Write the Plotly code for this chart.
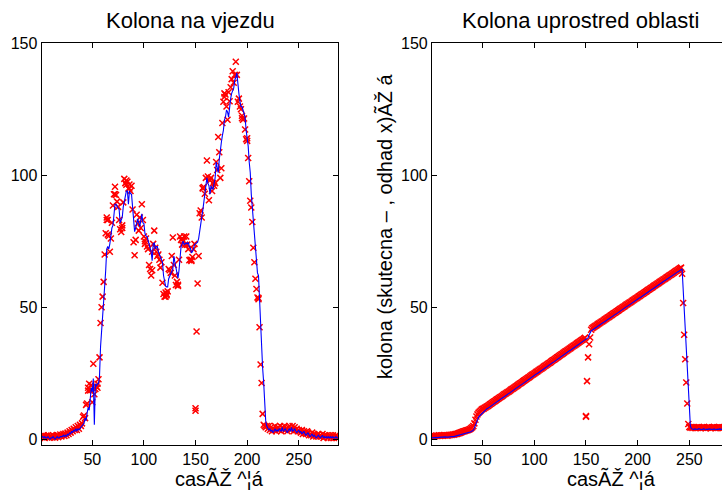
import plotly.graph_objects as go

# ---------------- data: left panel "Kolona na vjezdu" ----------------
left_blue = [
    1, 1, 0.5, 1, 0.5, 0.5, 1, 0.5, 0, 0.5,
    0.5, 1, 0.5, 0, 0.5, 1, 0.5, 0.5, 1, 1,
    1, 1.5, 1, 1.5, 1, 2, 1.5, 2.5, 2, 3,
    2.5, 3.5, 3, 4, 3, 4, 3.5, 4, 4.5, 5,
    5.5, 6, 8, 7, 10, 12, 11, 16, 19.5, 18,
    23, 5.5, 21, 20, 21, 21, 24, 35, 40, 46,
    52, 58, 64, 72, 73, 72, 74, 78, 80, 81,
    86, 89, 89, 88, 87.6, 87, 82, 83, 84, 88,
    90, 91.5, 94, 94, 89, 94, 93, 92.8, 88, 84,
    78.6, 80, 81.7, 83.5, 82, 80.5, 83, 85.4, 82, 81.7,
    78, 77, 76.8, 75.5, 74, 73, 71, 67.6, 74, 74.3,
    72, 73, 73, 71, 70, 69.4, 68, 67, 62, 60,
    58, 57.7, 57.7, 60.8, 62, 62.7, 63.5, 64.5, 69.4, 67,
    64.5, 63, 61, 64, 68, 73, 74, 75, 73.7, 74,
    74.3, 74, 74.6, 73, 72.5, 70.6, 71, 72, 73.7, 74,
    74.3, 74.6, 76, 79, 83, 84, 86.6, 90, 94, 97,
    99, 97, 96, 92.8, 96, 95, 94.6, 97, 99, 105,
    103, 101, 106, 110, 112.4, 115, 117, 121, 122, 124.7,
    124, 122, 126, 129, 131, 132, 133, 136, 137, 138.8,
    133, 131, 128, 126, 126, 124.7, 123, 122, 117, 114,
    111, 105, 101, 92.8, 88, 83, 78, 73, 65.7, 63,
    62, 52, 45, 34, 27, 21.5, 12, 6.8, 5, 4,
    3.5, 4, 3, 3.5, 2.5, 3, 4, 3, 3.5, 3,
    4, 3.5, 3, 4.5, 3, 3.5, 4, 3, 2.5, 3.5,
    4, 3, 4.5, 3, 3.5, 4, 3, 2.5, 3, 3.5,
    2.5, 3, 2, 2.5, 3, 2, 1.5, 2, 2.5, 1.5,
    1, 1.5, 2, 1, 1.5, 1, 0.5, 1, 1.5, 1,
    0.5, 1, 1.5, 0.5, 1, 0.5, 1, 0.5, 1, 0.5,
    1, 0.5, 1, 0.5, 0.5, 1, 0.5, 0.5,
]
left_red = [
    1.0, 0.8, 1.5, 0.5, 1.2, 0.8, 1.5, 0.6, 1.0, 1.3,
    0.7, 1.5, 1.0, 0.6, 1.2, 1.6, 0.8, 1.2, 1.8, 1.0,
    1.5, 2.0, 1.2, 2.2, 1.5, 2.5, 2.0, 3.0, 2.5, 3.5,
    3.0, 4.0, 3.5, 4.5, 3.5, 5.0, 4.0, 5.5, 5.0, 6.0,
    8.5, 9.0, 8.0, 13.0, 13.5, 19.5, 21.0, 18.5, 20.5, 14.0,
    28.6, 17.0, 19.0, 20.0, 19.5, 22.7, 31.0, 44.0, 50.0, 54.0,
    59.6, 70.0, 78.0, 84.0, 83.0, 77.0, 71.0, 76.0, 82.0, 88.5,
    92.8, 95.6, 92.5, 90.0, 88.0, 83.0, 79.5, 78.5, 81.0, 89.7,
    98.6, 97.0, 96.4, 97.5, 95.0, 95.0, 94.0, 96.0, 87.0, 74.6,
    69.7, 75.5, 85.0, 81.7, 79.0, 84.0, 80.0, 89.0, 83.0, 76.8,
    74.0, 76.0, 73.0, 72.0, 66.0, 64.5, 62.0, 71.0, 74.0, 79.0,
    72.5, 71.0, 69.4, 70.0, 68.0, 65.0, 67.0, 59.3, 55.0, 54.0,
    55.6, 54.5, 56.0, 64.5, 64.0, 63.0, 69.4, 76.4, 66.0, 62.0,
    58.4, 59.6, 58.5, 68.0, 76.8, 75.5, 73.7, 75.0, 76.8, 73.7,
    76.8, 73.7, 72.0, 67.8, 68.0, 68.0, 69.0, 72.0, 74.0, 11.7,
    40.8, 59.0, 69.4, 85.6, 86.6, 84.0, 95.2, 95.5, 93.0, 99.0,
    105.6, 99.5, 90.5, 98.0, 99.0, 94.0, 97.0, 96.0, 97.0, 105.0,
    102.0, 114.5, 108.7, 99.0, 102.6, 119.8, 127.8, 129.6, 130.6, 126.0,
    121.0, 131.4, 128.0, 133.3, 136.4, 139.4, 135.0, 138.0, 143.0, 138.0,
    127.8, 129.0, 126.0, 125.0, 121.6, 121.0, 121.5, 117.3, 113.6, 113.0,
    106.5, 97.7, 90.3, 87.8, 82.3, 72.5, 67.0, 60.8, 56.9, 53.7,
    53.0, 42.4, 28.3, 21.3, 9.6, 5.5, 5.0, 4.5, 5.0, 4.0,
    5.0, 3.5, 4.5, 3.0, 4.0, 3.5, 5.0, 3.0, 4.0, 4.5,
    3.5, 5.0, 3.0, 4.5, 4.0, 5.0, 3.5, 4.0, 3.0, 4.5,
    5.0, 3.5, 4.0, 5.0, 3.0, 4.5, 3.5, 4.0, 3.0, 3.5,
    3.0, 2.5, 3.5, 2.0, 3.0, 2.5, 2.0, 3.0, 2.5, 1.5,
    2.0, 1.5, 2.5, 1.0, 2.0, 1.5, 1.0, 1.5, 2.0, 1.0,
    1.5, 1.0, 2.0, 0.5, 1.5, 1.0, 1.5, 0.5, 1.0, 1.5,
    0.5, 1.0, 1.5, 0.5, 1.0, 1.5, 0.5, 1.0,
]
left_extra_t = [150, 46, 55, 64, 65, 72, 79, 83, 86, 101, 108, 121, 122, 133,
                137, 146, 157, 178, 195, 200, 211]
left_extra_v = [10.8, 18.4, 21.0, 83.0, 77.5, 92.8, 80.0, 98.0, 96.5, 75.0, 64.0,
                54.0, 55.0, 58.0, 76.0, 67.5, 95.0, 131.0, 122.5, 114.0, 53.5]

# ---------------- data: right panel "Kolona uprostred oblasti" ----------------
right_blue = [
    0.5, 0.6, 0.5, 0.6, 0.7, 0.6, 0.7, 0.8, 0.7, 0.8,
    0.8, 0.9, 0.8, 0.9, 0.8, 0.7, 0.8, 0.9, 1.0, 0.9,
    1.0, 1.0, 1.1, 1.1, 1.2, 1.3, 1.4, 1.5, 1.6, 1.8,
    1.9, 2.0, 2.1, 2.2, 2.3, 2.4, 2.5, 2.7, 2.9, 3.1,
    3.4, 4.2, 5.4, 6.6, 7.6, 8.3, 8.8, 9.2, 9.6, 10.0,
    10.6, 10.9, 11.2, 11.5, 11.7, 12.0, 12.3, 12.6, 12.8, 13.1,
    13.4, 13.7, 13.9, 14.2, 14.5, 14.8, 15.0, 15.3, 15.6, 15.9,
    16.1, 16.4, 16.7, 17.0, 17.2, 17.5, 17.8, 18.1, 18.3, 18.6,
    18.9, 19.2, 19.4, 19.7, 20.0, 20.3, 20.5, 20.8, 21.1, 21.4,
    21.6, 21.9, 22.2, 22.5, 22.7, 23.0, 23.3, 23.6, 23.8, 24.1,
    24.4, 24.7, 24.9, 25.2, 25.5, 25.8, 26.0, 26.3, 26.6, 26.9,
    27.1, 27.4, 27.7, 28.0, 28.2, 28.5, 28.8, 29.1, 29.3, 29.6,
    29.9, 30.2, 30.4, 30.7, 31.0, 31.3, 31.5, 31.8, 32.1, 32.4,
    32.6, 32.9, 33.2, 33.5, 33.7, 34.0, 34.3, 34.6, 34.8, 35.1,
    35.4, 35.7, 35.9, 36.2, 36.5, 36.8, 37.0, 37.3, 37.6, 37.9,
    38.1, 38.4, 39.5, 40.5, 41.0, 41.3, 41.6, 41.8, 42.1, 42.4,
    42.6, 42.9, 43.2, 43.4, 43.7, 44.0, 44.2, 44.5, 44.8, 45.0,
    45.3, 45.6, 45.8, 46.1, 46.4, 46.6, 46.9, 47.2, 47.4, 47.7,
    48.0, 48.2, 48.5, 48.8, 49.0, 49.3, 49.6, 49.8, 50.1, 50.4,
    50.6, 50.9, 51.2, 51.4, 51.7, 52.0, 52.2, 52.5, 52.8, 53.0,
    53.3, 53.6, 53.8, 54.1, 54.4, 54.6, 54.9, 55.2, 55.4, 55.7,
    56.0, 56.2, 56.5, 56.8, 57.0, 57.3, 57.6, 57.8, 58.1, 58.4,
    58.6, 58.9, 59.2, 59.4, 59.7, 60.0, 60.2, 60.5, 60.8, 61.0,
    61.3, 61.6, 61.8, 62.1, 62.4, 62.6, 62.9, 63.2, 63.4, 63.7,
    64.0, 64.2, 64.5, 57.0, 50.0, 42.0, 34.0, 27.0, 19.0, 12.0,
    5.0, 4.0, 3.8, 3.7, 3.9, 3.8, 3.6, 3.7, 4.0, 3.8,
    3.7, 3.6, 3.8, 4.0, 3.7, 3.6, 3.8, 3.7, 3.9, 3.8,
    3.6, 3.7, 3.8, 3.9, 3.7, 3.6, 3.8, 3.7, 3.9, 3.8,
    3.6, 3.7, 3.8, 3.7, 3.6, 3.8, 3.7, 3.6,
]
right_red = [
    1.2, 1.0, 1.3, 1.1, 1.4, 1.2, 1.3, 1.5, 1.2, 1.4,
    1.5, 1.3, 1.6, 1.4, 1.5, 1.3, 1.6, 1.5, 1.7, 1.6,
    1.8, 1.7, 1.9, 2.0, 2.0, 2.2, 2.3, 2.4, 2.6, 2.7,
    2.9, 3.0, 3.1, 3.3, 3.4, 3.5, 3.7, 3.9, 4.2, 4.5,
    5.0, 6.0, 7.4, 8.6, 9.4, 10.0, 10.4, 10.8, 11.2, 11.5,
    11.6, 11.9, 12.1, 12.4, 12.6, 12.9, 13.2, 13.4, 13.7, 14.0,
    14.3, 14.5, 14.8, 15.1, 15.3, 15.6, 15.9, 16.1, 16.4, 16.7,
    17.0, 17.2, 17.5, 17.8, 18.0, 18.3, 18.6, 18.9, 19.1, 19.4,
    19.7, 20.0, 20.2, 20.5, 20.8, 21.1, 21.3, 21.6, 21.9, 22.2,
    22.4, 22.7, 23.0, 23.3, 23.5, 23.8, 24.1, 24.4, 24.6, 24.9,
    25.2, 25.5, 25.7, 26.0, 26.3, 26.6, 26.8, 27.1, 27.4, 27.7,
    27.9, 28.2, 28.5, 28.8, 29.0, 29.3, 29.6, 29.9, 30.1, 30.4,
    30.7, 31.0, 31.2, 31.5, 31.8, 32.1, 32.3, 32.6, 32.9, 33.2,
    33.4, 33.7, 34.0, 34.3, 34.5, 34.8, 35.1, 35.4, 35.6, 35.9,
    36.2, 36.5, 36.7, 37.0, 37.3, 37.6, 37.8, 38.1, 38.4, 8.5,
    22.0, 31.0, 36.0, 38.5, 41.5, 42.0, 42.3, 42.6, 42.9, 43.1,
    43.4, 43.7, 43.9, 44.2, 44.5, 44.7, 45.0, 45.3, 45.5, 45.8,
    46.1, 46.3, 46.6, 46.9, 47.1, 47.4, 47.7, 47.9, 48.2, 48.5,
    48.7, 49.0, 49.3, 49.5, 49.8, 50.1, 50.3, 50.6, 50.9, 51.1,
    51.4, 51.7, 51.9, 52.2, 52.5, 52.7, 53.0, 53.3, 53.5, 53.8,
    54.1, 54.3, 54.6, 54.9, 55.1, 55.4, 55.7, 55.9, 56.2, 56.5,
    56.7, 57.0, 57.3, 57.5, 57.8, 58.1, 58.3, 58.6, 58.9, 59.1,
    59.4, 59.7, 59.9, 60.2, 60.5, 60.7, 61.0, 61.3, 61.5, 61.8,
    62.1, 62.3, 62.6, 62.9, 63.1, 63.4, 63.7, 63.9, 64.2, 64.5,
    64.7, 65.0, 62.7, 51.6, 39.6, 30.3, 21.5, 13.5, 5.8, 4.6,
    4.4, 4.6, 4.3, 4.5, 4.4, 4.2, 4.5, 4.3, 4.6, 4.4,
    4.3, 4.5, 4.4, 4.6, 4.3, 4.2, 4.5, 4.4, 4.6, 4.3,
    4.2, 4.4, 4.5, 4.6, 4.3, 4.4, 4.5, 4.3, 4.6, 4.4,
    4.2, 4.3, 4.5, 4.4, 4.2, 4.3, 4.4, 4.2,
]
right_extra_t = [150]
right_extra_v = [8.8]

t = list(range(1, 289))
for arr in (left_blue, left_red, right_blue, right_red):
    assert len(arr) == len(t), len(arr)

title_left = "Kolona na vjezdu"
title_right = "Kolona uprostred oblasti"
xlabel = "casÃŽ ^¦á"
ylabel_right = "kolona (skutecna – , odhad x)ÃŽ á"
x_ticks = [50, 100, 150, 200, 250]
y_ticks = [0, 50, 100, 150]

# ---------------- figure ----------------
W, H = 722, 493
FONT = "Liberation Sans"

def px_x(p):
    return p / W

def px_y(p):
    return (H - p) / H

marker = dict(symbol="x-thin", size=6, color="red", line=dict(color="red", width=1.5))

fig = go.Figure()
fig.add_trace(go.Scatter(x=t, y=left_red, mode="markers", marker=marker,
                         xaxis="x", yaxis="y", showlegend=False))
fig.add_trace(go.Scatter(x=left_extra_t, y=left_extra_v, mode="markers", marker=marker,
                         xaxis="x", yaxis="y", showlegend=False))
fig.add_trace(go.Scatter(x=t, y=left_blue, mode="lines", line=dict(color="blue", width=1.1),
                         xaxis="x", yaxis="y", showlegend=False))
fig.add_trace(go.Scatter(x=t, y=right_red, mode="markers", marker=marker,
                         xaxis="x2", yaxis="y2", showlegend=False))
fig.add_trace(go.Scatter(x=right_extra_t, y=right_extra_v, mode="markers", marker=marker,
                         xaxis="x2", yaxis="y2", showlegend=False))
fig.add_trace(go.Scatter(x=t, y=right_blue, mode="lines", line=dict(color="blue", width=1.1),
                         xaxis="x2", yaxis="y2", showlegend=False))

tick_font = dict(family=FONT, size=16, color="black")
common_x = dict(tickmode="array", tickvals=x_ticks, ticks="inside", ticklen=5,
                tickwidth=1, tickcolor="black", showline=True, linecolor="black",
                linewidth=1.2, showgrid=False, zeroline=False, tickfont=tick_font)
common_y = dict(range=[-2.2, 150], tickmode="array", tickvals=y_ticks, ticks="inside",
                ticklen=5, tickwidth=1, tickcolor="black", showline=True,
                linecolor="black", linewidth=1.2, showgrid=False, zeroline=False,
                tickfont=tick_font)

left_l, left_r = 41.7, 338.0
right_l = 432.0
top, bottom = 36.0, 447.0
xscale = 1.0335

fig.update_layout(
    width=W, height=H, autosize=False,
    margin=dict(l=0, r=0, t=0, b=0),
    paper_bgcolor="white", plot_bgcolor="white",
    xaxis=dict(domain=[px_x(left_l), px_x(left_r)], range=[1, 288], anchor="y",
               mirror="ticks", **common_x),
    yaxis=dict(domain=[px_y(bottom), px_y(top)], anchor="x", mirror="ticks", **common_y),
    xaxis2=dict(domain=[px_x(right_l), 1.0], range=[1, 1 + (W - right_l) / xscale],
                anchor="y2", mirror="ticks", **common_x),
    yaxis2=dict(domain=[px_y(bottom), px_y(top)], anchor="x2", mirror=False, **common_y),
    annotations=[
        dict(text=title_left, x=px_x(190), y=px_y(13), xref="paper", yref="paper",
             xanchor="center", yanchor="middle", showarrow=False,
             font=dict(family=FONT, size=22, color="black")),
        dict(text=title_right, x=px_x(580), y=px_y(13), xref="paper", yref="paper",
             xanchor="center", yanchor="middle", showarrow=False,
             font=dict(family=FONT, size=22, color="black")),
        dict(text=xlabel, x=px_x(173), y=px_y(481), xref="paper", yref="paper",
             xanchor="left", yanchor="middle", showarrow=False,
             font=dict(family=FONT, size=20, color="black")),
        dict(text=xlabel, x=px_x(565), y=px_y(481), xref="paper", yref="paper",
             xanchor="left", yanchor="middle", showarrow=False,
             font=dict(family=FONT, size=20, color="black")),
        dict(text=ylabel_right, x=px_x(384), y=px_y(224), xref="paper", yref="paper",
             xanchor="center", yanchor="middle", textangle=-90, showarrow=False,
             font=dict(family=FONT, size=20, color="black")),
    ],
)

fig.write_html(
    "out.html",
    config={"displayModeBar": False},
    post_script="document.body.style.margin='0';document.body.style.overflow='hidden';"
                "document.documentElement.style.overflow='hidden';",
)
